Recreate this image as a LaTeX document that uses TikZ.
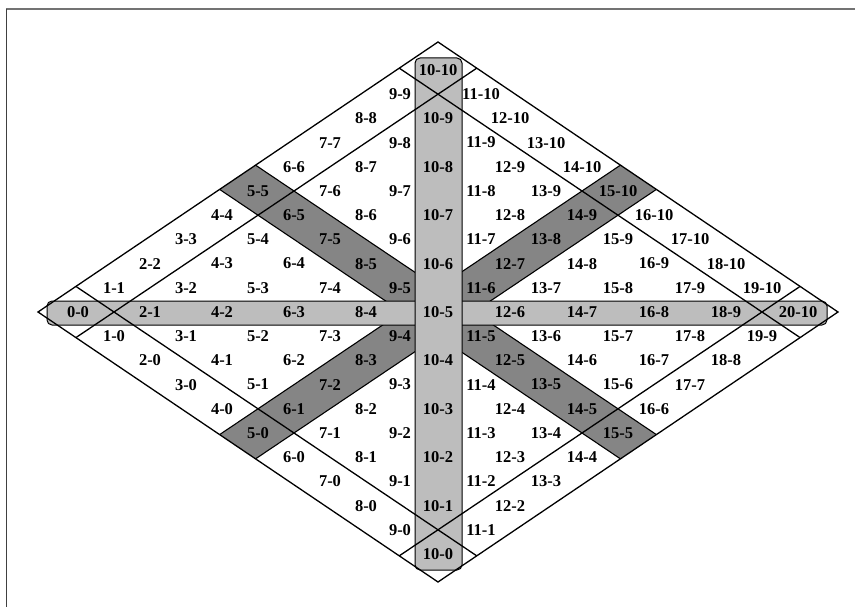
\documentclass[tikz,border=0pt]{standalone}
\usepackage{fontspec}
\setmainfont{Liberation Serif}
\begin{document}
\begin{tikzpicture}[x=1pt,y=-1pt,
  lbl/.style={font=\fontsize{16.5}{17}\selectfont\bfseries, inner sep=0pt},
  lightband/.style={fill=black!26, draw=black, line width=1pt, rounded corners=5pt},
  darkband/.style={fill=black!48},
  bandedge/.style={draw=black, line width=1.1pt},
  gridline/.style={draw=black, line width=1.3pt},
  outline/.style={draw=black, line width=1.3pt, line join=miter}]
\useasboundingbox (0,0) rectangle (855,607);
% frame
\draw[black!55, line width=2.5pt] (6,9) -- (855,9);
\draw[black!75, line width=0.9pt] (6,9) -- (6,607);
% diamond corners
\coordinate (W) at (38,312);
\coordinate (N) at (438,42);
\coordinate (E) at (838,312);
\coordinate (S) at (438,582);
% dark bands (a=5 and b=5), clipped to the diamond
\begin{scope}
\clip (W) -- (N) -- (E) -- (S) -- cycle;
\fill[darkband] ({438+(4.5-2-10)*36},{312-(4.5+2)*24.2}) -- ({438+(5.5-2-10)*36},{312-(5.5+2)*24.2})
  -- ({438+(5.5+12-10)*36},{312-(5.5-12)*24.2}) -- ({438+(4.5+12-10)*36},{312-(4.5-12)*24.2}) -- cycle;
\fill[darkband] ({438+(4.5-2-10)*36},{312+(4.5+2)*24.2}) -- ({438+(5.5-2-10)*36},{312+(5.5+2)*24.2})
  -- ({438+(5.5+12-10)*36},{312+(5.5-12)*24.2}) -- ({438+(4.5+12-10)*36},{312+(4.5-12)*24.2}) -- cycle;
\foreach \c in {4.5,5.5}{
  \draw[bandedge] ({438+(\c-2-10)*36},{312-(\c+2)*24.2}) -- ({438+(\c+12-10)*36},{312-(\c-12)*24.2});
  \draw[bandedge] ({438+(\c-2-10)*36},{312+(\c+2)*24.2}) -- ({438+(\c+12-10)*36},{312+(\c-12)*24.2});
}
\end{scope}
% light bands
\node[lightband, minimum width=780pt, minimum height=24pt, inner sep=0pt] (hband) at (437,313) {};
\node[lightband, minimum width=47pt, minimum height=512pt, inner sep=0pt] (vband) at (438.5,314) {};
% separator lines a=0.5, a=9.5, b=0.5, b=9.5
\begin{scope}
\clip (W) -- (N) -- (E) -- (S) -- cycle;
\foreach \c in {0.5,9.5}{
  \draw[gridline] ({438+(\c-2-10)*36},{312-(\c+2)*24.2}) -- ({438+(\c+12-10)*36},{312-(\c-12)*24.2});
  \draw[gridline] ({438+(\c-2-10)*36},{312+(\c+2)*24.2}) -- ({438+(\c+12-10)*36},{312+(\c-12)*24.2});
}
\end{scope}
% outline
\draw[outline] (W) -- (N) -- (E) -- (S) -- cycle;
% labels i-j, with a=j, b=i-j
\foreach \j in {0,...,10}{
  \foreach \b in {0,...,10}{
    \pgfmathtruncatemacro\i{\j+\b}
    \pgfmathsetmacro\dx{\i==11 ? 7 : (\i==9 ? -2 : 0)}
    \node[lbl] (L\i-\j) at ({438+(\i-10)*36+\dx},{312-(2*\j-\i)*24.2}) {\i-\j};
  }
}
\end{tikzpicture}
\end{document}
